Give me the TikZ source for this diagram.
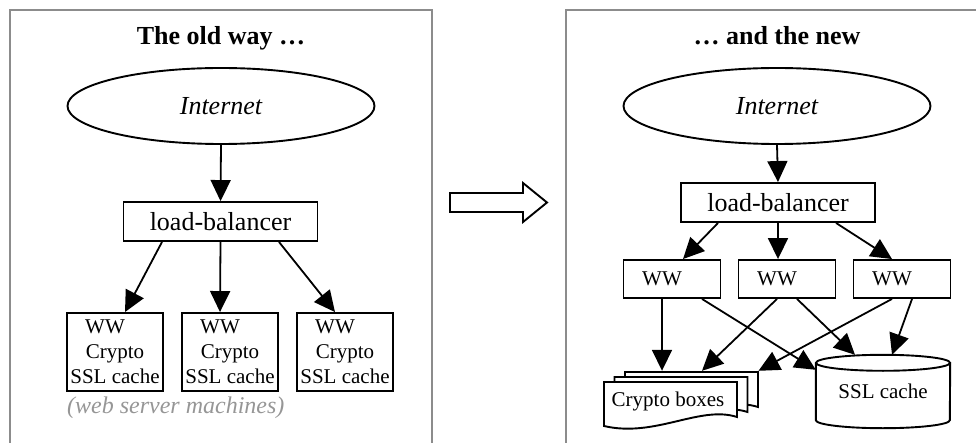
\documentclass[tikz,border=0pt]{standalone}
\usepackage{fontspec}
\setmainfont{Liberation Serif}
\usetikzlibrary{arrows.meta,shapes.geometric}

\definecolor{framegray}{RGB}{140,140,140}
\definecolor{notegray}{RGB}{150,150,150}
\newcommand{\bigfont}{\fontsize{26}{30}\selectfont}
\newcommand{\smallfont}{\fontsize{21}{25}\selectfont}

\tikzset{
  panel/.style={framegray, line width=2pt},
  heading/.style={font=\bigfont\bfseries, anchor=base},
  netcloud/.style={draw, ellipse, line width=1.9pt, minimum width=307pt, minimum height=76pt, inner sep=0pt, font=\bigfont\itshape},
  balancer/.style={draw, line width=1.9pt, minimum width=194pt, minimum height=39pt, inner sep=0pt, font=\bigfont},
  server/.style={draw, line width=1.9pt, minimum width=96pt, minimum height=78pt, inner sep=0pt, align=center, font=\smallfont},
  worker/.style={draw, line width=1.9pt, minimum width=97pt, minimum height=38pt, inner sep=0pt, font=\smallfont},
  paper/.style={draw, fill=white, line width=1.9pt},
  flow/.style={-{Triangle[length=21pt,width=20pt]}, line width=1.8pt},
}

\begin{document}
\begin{tikzpicture}[x=1pt, y=-1pt]
\useasboundingbox (0,0) rectangle (976,443);

% -------- the old way -----------
\draw[panel] (10,443) -- (10,10) -- (432,10) -- (432,443);
\node[heading] (told) at (221,45) {The old way …};
\node[netcloud] (inet1) at (221,106) {Internet};
\node[balancer] (lb1) at (220.5,221.5) {load-balancer};
\node[server] (s1) at (115,352) {WW\hspace*{20pt}\\Crypto\\SSL cache};
\node[server] (s2) at (230,352) {WW\hspace*{20pt}\\Crypto\\SSL cache};
\node[server] (s3) at (345,352) {WW\hspace*{20pt}\\Crypto\\SSL cache};
\node[font=\fontsize{24}{28}\selectfont\itshape, text=notegray, anchor=base west, inner sep=0pt] (note) at (67,413) {(web server machines)};

\draw[flow] (inet1.south) -- (lb1.north);
\draw[flow] ([xshift=-58.5pt]lb1.south) -- ([xshift=10pt]s1.north);
\draw[flow] (lb1.south) -- ([xshift=-10pt]s2.north);
\draw[flow] ([xshift=58.5pt]lb1.south) -- ([xshift=-10pt]s3.north);

% -------- change -----------
\draw[line width=1.9pt] (450,193) -- (523,193) -- (523,183) -- (547,202.5) -- (523,222) -- (523,212) -- (450,212) -- cycle;

% -------- and the new -----------
\draw[panel] (566,443) -- (566,10) -- (980,10);
\node[heading] (tnew) at (777,45) {… and the new};
\node[netcloud] (inet2) at (777,106) {Internet};
\node[balancer] (lb2) at (778,202.5) {load-balancer};
\node[worker] (wa) at (672,279) {WW\hspace*{20pt}};
\node[worker] (wb) at (787,279) {WW\hspace*{20pt}};
\node[worker] (wc) at (902,279) {WW\hspace*{20pt}};

\foreach \dx/\dy in {21/-10, 10.5/-5, 0/0}
  \draw[paper, shift={(\dx,\dy)}] (604,382) -- (737,382) -- (737,417) .. controls (700,405) and (655,438) .. (604,426) -- cycle;
\node[font=\smallfont, minimum width=133pt, minimum height=38pt, inner sep=0pt] (crypto) at (668,401) {Crypto boxes};

\node[font=\smallfont, minimum width=134pt, minimum height=73pt, inner sep=0pt] (ssl) at (883,391.5) {SSL cache};
\draw[line width=1.9pt] ([yshift=-8pt]ssl.north west) -- ([yshift=8pt]ssl.south west)
  arc[start angle=180, end angle=360, x radius=67pt, y radius=8pt] -- ([yshift=-8pt]ssl.north east);
\draw[line width=1.9pt] ([yshift=-8pt]ssl.north) ellipse[x radius=67pt, y radius=8pt];

\draw[flow] (inet2.south) -- (lb2.north);
\draw[flow] ([xshift=-60pt]lb2.south) -- ([xshift=11pt]wa.north);
\draw[flow] (lb2.south) -- ([xshift=-9pt]wb.north);
\draw[flow] ([xshift=58pt]lb2.south) -- ([xshift=-10pt]wc.north);

\draw[flow] ([xshift=-10pt]wa.south) -- ([xshift=-6pt,yshift=11pt]crypto.north);
\draw[flow] ([xshift=30pt]wa.south) -- ([yshift=-15pt]ssl.north west);
\draw[flow] ([xshift=-10pt]wb.south) -- ([xshift=34pt,yshift=11pt]crypto.north);
\draw[flow] ([xshift=10pt]wb.south) -- ([xshift=-28pt]ssl.north);
\draw[flow] ([xshift=-10pt]wc.south) -- ([xshift=90.5pt,yshift=11pt]crypto.north);
\draw[flow] ([xshift=10pt]wc.south) -- ([xshift=9pt]ssl.north);
\end{tikzpicture}
\end{document}
